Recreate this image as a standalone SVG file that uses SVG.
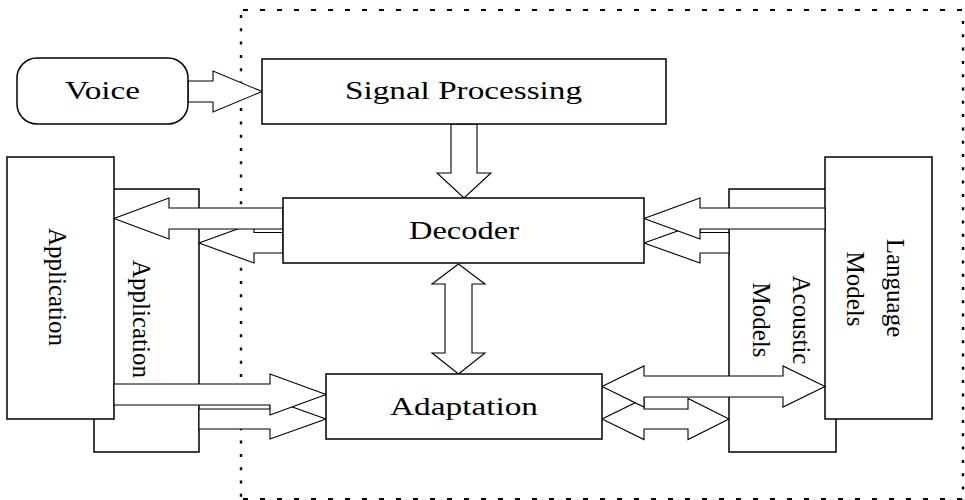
<svg xmlns="http://www.w3.org/2000/svg" width="965" height="500" viewBox="0 0 965 500">
<style>
.box{fill:#fff;stroke:#000;stroke-width:1.5}
.arr{fill:#fff;stroke:#000;stroke-width:1.1;stroke-linejoin:miter}
.lbl{font-family:"Liberation Serif","Times New Roman",serif;font-size:25px;fill:#000}
.dotv{stroke:#000;stroke-width:2.4;stroke-dasharray:3 10.3;fill:none}
.dash{stroke:#000;stroke-width:2;stroke-dasharray:5 12;fill:none}
</style>
<rect width="965" height="500" fill="#fff"/>
<g id="boundary">
<line class="dash" x1="243" y1="10" x2="963" y2="10"/>
<line class="dotv" x1="241" y1="15" x2="241" y2="500"/>
<line class="dotv" x1="963" y1="21" x2="963" y2="500"/>
<line class="dash" x1="243" y1="499" x2="963" y2="499"/>
</g>
<g id="app-inner">
<rect class="box" x="94" y="189" width="105" height="263"/>
<text class="lbl" transform="translate(133,319) rotate(90)" text-anchor="middle">Application</text>
</g>
<g id="acoustic-models">
<rect class="box" x="729" y="189" width="107" height="263"/>
<text class="lbl" transform="translate(793,320) rotate(90)" text-anchor="middle">Acoustic</text>
<text class="lbl" transform="translate(753,320) rotate(90)" text-anchor="middle">Models</text>
</g>
<g id="app-outer">
<rect class="box" x="7" y="157" width="107" height="262"/>
<text class="lbl" transform="translate(49,287) rotate(90)" text-anchor="middle">Application</text>
</g>
<g id="language-models">
<rect class="box" x="825" y="157" width="107" height="262"/>
<text class="lbl" transform="translate(887,288) rotate(90)" text-anchor="middle">Language</text>
<text class="lbl" transform="translate(847,289) rotate(90)" text-anchor="middle">Models</text>
</g>
<g id="connectors">
<polygon class="arr" points="188,81 213,81 213,71 262,91.5 213,112 213,102 188,102"/>
<polygon class="arr" points="451,124 451,173 437,173 464,198 491,173 477,173 477,124"/>
<polygon class="arr" points="458.5,264 485,284 472,284 472,353 485,353 458.5,374 432,353 445,353 445,284 432,284"/>
<polygon class="arr" points="283,232.5 254,232.5 254,223 199,243 254,263 254,253 283,253"/>
<polygon class="arr" points="283,208 169,208 169,198 114,218.5 169,239 169,229 283,229"/>
<polygon class="arr" points="729,232.5 700,232.5 700,223 644,243 700,263 700,253 729,253"/>
<polygon class="arr" points="825,208 700,208 700,198 644,218.5 700,239 700,229 825,229"/>
<polygon class="arr" points="199,409 270,409 270,399 326,419 270,439 270,429 199,429"/>
<polygon class="arr" points="114,384 270,384 270,374 326,394.5 270,415 270,405 114,405"/>
<polygon class="arr" points="602,419 644,398.5 644,409 688,409 688,398.5 729,419 688,439.5 688,429 644,429 644,439.5"/>
<polygon class="arr" points="602,386.5 644,366 644,376 783,376 783,366 825,386.5 783,407 783,397 644,397 644,407"/>
</g>
<g id="voice">
<rect class="box" x="17" y="58" width="171" height="66" rx="20"/>
<text class="lbl" x="65" y="99" textLength="75" lengthAdjust="spacingAndGlyphs">Voice</text>
</g>
<g id="signal-processing">
<rect class="box" x="262" y="59" width="404" height="65"/>
<text class="lbl" x="345" y="99" textLength="237" lengthAdjust="spacingAndGlyphs">Signal Processing</text>
</g>
<g id="decoder">
<rect class="box" x="283" y="198" width="361" height="65"/>
<text class="lbl" x="409" y="239" textLength="110" lengthAdjust="spacingAndGlyphs">Decoder</text>
</g>
<g id="adaptation">
<rect class="box" x="326" y="374" width="276" height="65"/>
<text class="lbl" x="390" y="415" textLength="148" lengthAdjust="spacingAndGlyphs">Adaptation</text>
</g>
</svg>
